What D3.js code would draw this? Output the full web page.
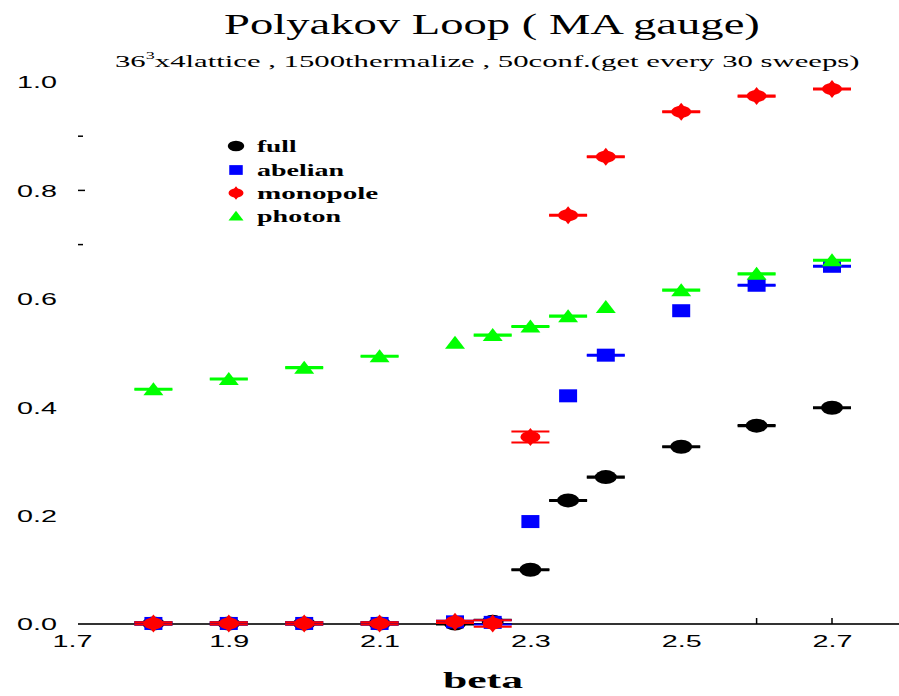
<!DOCTYPE html>
<html>
<head>
<meta charset="utf-8">
<script src="https://cdn.jsdelivr.net/npm/d3@7"></script>
<style>
  html, body { margin: 0; padding: 0; background: #fff; }
  svg { display: block; }
</style>
</head>
<body>
<svg id="chart" width="899" height="696"></svg>
<script>
// beta values of the simulation runs
const betas = [1.8, 1.9, 2.0, 2.1, 2.2, 2.25, 2.3, 2.35, 2.4, 2.5, 2.6, 2.7];

// Polyakov loop expectation values per component (null error = no bar drawn)
const fullVals   = [0.001, 0.001, 0.001, 0.001, 0.001, 0.004, 0.100, 0.228, 0.271, 0.327, 0.366, 0.399];
const fullErr    = [0.002, 0.002, 0.002, 0.002, 0.002, 0.004, 0.001, 0.001, 0.001, 0.001, 0.001, 0.001];
const abelVals   = [0.001, 0.001, 0.001, 0.001, 0.004, 0.003, 0.189, 0.421, 0.496, 0.578, 0.625, 0.660];
const abelErr    = [0.002, 0.002, 0.002, 0.002, 0.002, 0.004, null, null, 0.001, null, 0.001, 0.001];
const monoVals   = [0.001, 0.001, 0.001, 0.001, 0.004, 0.001, 0.345, 0.754, 0.862, 0.945, 0.974, 0.987];
const monoErr    = [0.002, 0.002, 0.002, 0.002, 0.002, 0.006, 0.010, 0.001, 0.001, 0.001, 0.001, 0.001];
const photVals   = [0.433, 0.452, 0.473, 0.494, 0.519, 0.533, 0.549, 0.568, 0.585, 0.616, 0.646, 0.671];
const photErr    = [0.001, 0.001, 0.001, 0.001, null, 0.001, 0.001, 0.001, null, 0.001, 0.001, 0.001];

const seriesNames = ["full", "abelian", "monopole", "photon"];
const seriesColors = ["#000000", "#0000ff", "#ff0000", "#00ff00"];

const xTickValues = [1.7, 1.9, 2.1, 2.3, 2.5, 2.7];
const yTickValues = [0.0, 0.2, 0.4, 0.6, 0.8, 1.0];
const yMinorTicks = [0.7, 0.8, 0.9];
const xMarkTicks = [2.6, 2.7];

const titleText = "Polyakov Loop ( MA gauge)";
const xLabelText = "beta";

const svg = d3.select("#chart");

const x = d3.scaleLinear().domain([1.7, 2.8]).range([78, 907.4]);
const y = d3.scaleLinear().domain([0, 1]).range([624, 82]);

// stretch a text node horizontally so it spans [left, left+width]
function fit(sel, left, width) {
  sel.each(function () {
    const bb = this.getBBox();
    const sx = width / bb.width;
    d3.select(this).attr("transform",
      `translate(${left},0) scale(${sx},1) translate(${-bb.x},0)`);
  });
}

// ---- titles ----
const title = svg.append("text")
  .attr("y", 34)
  .style("font-family", "'Liberation Serif', serif")
  .style("font-size", "30px")
  .text(titleText);
fit(title, 224, 536);

const sub = svg.append("text")
  .attr("y", 67)
  .style("font-family", "'Liberation Serif', serif")
  .style("font-size", "17px");
sub.append("tspan").text("36");
sub.append("tspan").attr("dy", -8).style("font-size", "10px").text("3");
sub.append("tspan").attr("dy", 8).text("x4lattice , 1500thermalize , 50conf.(get every 30 sweeps)");
fit(sub, 115, 745);

// ---- axes ----
svg.append("line")
  .attr("x1", x(1.7)).attr("x2", 899)
  .attr("y1", y(0)).attr("y2", y(0))
  .attr("stroke", "#333").attr("stroke-width", 2);

svg.selectAll(".xmark").data(xMarkTicks).join("line")
  .attr("x1", d => x(d)).attr("x2", d => x(d))
  .attr("y1", y(0) - 6).attr("y2", y(0))
  .attr("stroke", "#000").attr("stroke-width", 1.5);

svg.selectAll(".ymark").data(yMinorTicks).join("line")
  .attr("x1", 78).attr("x2", d => d === 0.8 ? 85 : 83)
  .attr("y1", d => y(d)).attr("y2", d => y(d))
  .attr("stroke", "#000").attr("stroke-width", 1.5);

const xAxis = svg.append("g")
  .attr("transform", `translate(0,${y(0)})`)
  .call(d3.axisBottom(x).tickValues(xTickValues).tickSize(0).tickPadding(0)
    .tickFormat(d3.format(".1f")));
xAxis.select(".domain").remove();
xAxis.selectAll("text")
  .attr("y", 23).attr("dy", 0)
  .style("font-family", "'Liberation Sans', Arial, sans-serif")
  .style("font-size", "17px").attr("fill", "#000");
xAxis.selectAll(".tick").each(function (d) {
  const t = d3.select(this).select("text");
  const cx = d === 1.7 ? -6 : 0;
  t.attr("text-anchor", "start").attr("x", 0);
  fit(t, cx - 20, 40);
});

const yAxis = svg.append("g")
  .call(d3.axisLeft(y).tickValues(yTickValues).tickSize(0)
    .tickFormat(d3.format(".1f")));
yAxis.select(".domain").remove();
yAxis.selectAll("text")
  .attr("x", 0).attr("dy", "0.35em").attr("text-anchor", "start")
  .style("font-family", "'Liberation Sans', Arial, sans-serif")
  .style("font-size", "17px").attr("fill", "#000");
yAxis.selectAll(".tick text").each(function () { fit(d3.select(this), 17, 40); });

const xl = svg.append("text")
  .attr("y", 688)
  .style("font-family", "'Liberation Serif', serif")
  .style("font-weight", "bold")
  .style("font-size", "24px")
  .text(xLabelText);
fit(xl, 443, 80);

// ---- markers ----
function drawMarker(g, kind, color, s) {
  s = s || 1;
  if (kind === 0) {
    g.append("ellipse").attr("rx", 11 * s).attr("ry", 7 * s).attr("fill", color);
  } else if (kind === 1) {
    g.append("rect").attr("x", -9 * s).attr("y", -6.5 * s)
      .attr("width", 18 * s).attr("height", 13 * s).attr("fill", color);
  } else if (kind === 2) {
    g.append("ellipse").attr("rx", 10 * s).attr("ry", 6 * s).attr("fill", color);
    g.append("path")
      .attr("d", `M0,${-9 * s} L${4 * s},${-4 * s} L${4 * s},${4 * s} L0,${9 * s} L${-4 * s},${4 * s} L${-4 * s},${-4 * s}Z`)
      .attr("fill", color);
  } else {
    g.append("path")
      .attr("d", `M0,${-7 * s} L${10 * s},${6 * s} L${-10 * s},${6 * s}Z`)
      .attr("fill", color);
  }
}

const allVals = [fullVals, abelVals, monoVals, photVals];
const allErr = [fullErr, abelErr, monoErr, photErr];

allVals.forEach((vals, si) => {
  const color = seriesColors[si];
  const pts = betas.map((b, i) => ({ b, v: vals[i], e: allErr[si][i] }));
  const grp = svg.append("g").attr("class", "series-" + seriesNames[si]);
  // error bar caps
  pts.filter(p => p.e !== null).forEach(p => {
    [p.v - p.e, p.v + p.e].forEach(yy => {
      grp.append("line")
        .attr("x1", x(p.b) - 19).attr("x2", x(p.b) + 19)
        .attr("y1", y(yy)).attr("y2", y(yy))
        .attr("stroke", color).attr("stroke-width", 2);
    });
  });
  pts.forEach(p => {
    const m = grp.append("g").attr("transform", `translate(${x(p.b)},${y(p.v)})`);
    drawMarker(m, si, color);
  });
});

// ---- legend ----
const legendRows = [146, 170, 193, 216];
const legendWidths = [40, 88, 122, 85];
seriesNames.forEach((name, i) => {
  const m = svg.append("g").attr("transform", `translate(236,${legendRows[i]})`);
  drawMarker(m, i, seriesColors[i], 0.75);
  const t = svg.append("text")
    .attr("y", legendRows[i] + 6)
    .style("font-family", "'Liberation Serif', serif")
    .style("font-weight", "bold")
    .style("font-size", "17px")
    .text(name);
  fit(t, 257, legendWidths[i]);
});
</script>
</body>
</html>
